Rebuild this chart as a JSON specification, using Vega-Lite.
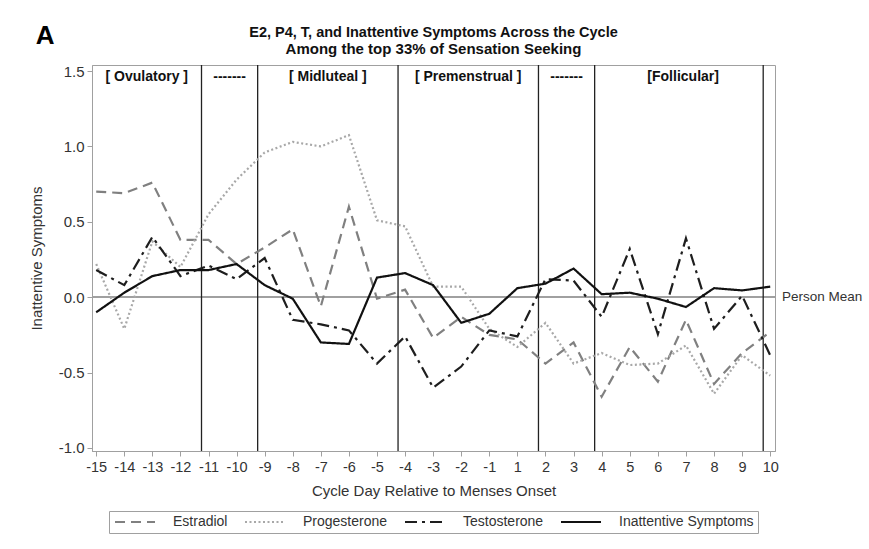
{
  "$schema": "https://vega.github.io/schema/vega-lite/v6.json",
  "autosize": {"type": "none"},
  "padding": {"left": 92, "top": 65, "right": 94, "bottom": 98},
  "width": 683,
  "height": 386,
  "background": "white",
  "title": {
    "text": "E2, P4, T, and Inattentive Symptoms Across the Cycle",
    "subtitle": "Among the top 33% of Sensation Seeking",
    "anchor": "middle",
    "fontSize": 14.5,
    "subtitleFontSize": 15,
    "fontWeight": "bold",
    "subtitleFontWeight": "bold",
    "color": "#111",
    "subtitleColor": "#111",
    "offset": -35,
    "subtitlePadding": 2
  },
  "config": {
    "font": "Liberation Sans, Arial",
    "view": {"stroke": "#a0a0a0", "strokeWidth": 1},
    "axis": {
      "grid": false,
      "domainColor": "#a0a0a0",
      "tickColor": "#a0a0a0",
      "tickSize": 5,
      "labelColor": "#333",
      "labelFontSize": 15,
      "labelOverlap": false,
      "titleColor": "#333",
      "titleFontSize": 15,
      "titleFontWeight": "normal"
    },
    "legend": {
      "orient": "bottom",
      "direction": "horizontal",
      "layout": {"bottom": {"anchor": "middle"}},
      "strokeColor": "#a0a0a0",
      "padding": 4,
      "offset": 12,
      "symbolType": "M-1,0H7",
      "symbolSize": 100,
      "symbolStrokeWidth": 2.2,
      "labelFontSize": 14,
      "labelColor": "#333",
      "columnPadding": 12,
      "labelOffset": 46
    }
  },
  "data": {
    "values": [
      {"day": -15, "Estradiol": 0.70, "Progesterone": 0.22, "Testosterone": 0.18, "Inattentive Symptoms": -0.10},
      {"day": -14, "Estradiol": 0.69, "Progesterone": -0.21, "Testosterone": 0.08, "Inattentive Symptoms": 0.03},
      {"day": -13, "Estradiol": 0.76, "Progesterone": 0.37, "Testosterone": 0.40, "Inattentive Symptoms": 0.14},
      {"day": -12, "Estradiol": 0.38, "Progesterone": 0.20, "Testosterone": 0.14, "Inattentive Symptoms": 0.18},
      {"day": -11, "Estradiol": 0.38, "Progesterone": 0.55, "Testosterone": 0.21, "Inattentive Symptoms": 0.18},
      {"day": -10, "Estradiol": 0.22, "Progesterone": 0.78, "Testosterone": 0.12, "Inattentive Symptoms": 0.22},
      {"day": -9, "Estradiol": 0.33, "Progesterone": 0.96, "Testosterone": 0.26, "Inattentive Symptoms": 0.08},
      {"day": -8, "Estradiol": 0.45, "Progesterone": 1.03, "Testosterone": -0.15, "Inattentive Symptoms": -0.01},
      {"day": -7, "Estradiol": -0.06, "Progesterone": 1.00, "Testosterone": -0.18, "Inattentive Symptoms": -0.30},
      {"day": -6, "Estradiol": 0.60, "Progesterone": 1.075, "Testosterone": -0.22, "Inattentive Symptoms": -0.31},
      {"day": -5, "Estradiol": -0.01, "Progesterone": 0.51, "Testosterone": -0.44, "Inattentive Symptoms": 0.13},
      {"day": -4, "Estradiol": 0.05, "Progesterone": 0.47, "Testosterone": -0.26, "Inattentive Symptoms": 0.16},
      {"day": -3, "Estradiol": -0.27, "Progesterone": 0.07, "Testosterone": -0.60, "Inattentive Symptoms": 0.08},
      {"day": -2, "Estradiol": -0.13, "Progesterone": 0.07, "Testosterone": -0.46, "Inattentive Symptoms": -0.17},
      {"day": -1, "Estradiol": -0.25, "Progesterone": -0.21, "Testosterone": -0.22, "Inattentive Symptoms": -0.11},
      {"day": 1, "Estradiol": -0.28, "Progesterone": -0.33, "Testosterone": -0.26, "Inattentive Symptoms": 0.06},
      {"day": 2, "Estradiol": -0.44, "Progesterone": -0.17, "Testosterone": 0.12, "Inattentive Symptoms": 0.09},
      {"day": 3, "Estradiol": -0.30, "Progesterone": -0.44, "Testosterone": 0.11, "Inattentive Symptoms": 0.19},
      {"day": 4, "Estradiol": -0.66, "Progesterone": -0.37, "Testosterone": -0.13, "Inattentive Symptoms": 0.02},
      {"day": 5, "Estradiol": -0.33, "Progesterone": -0.45, "Testosterone": 0.32, "Inattentive Symptoms": 0.03},
      {"day": 6, "Estradiol": -0.56, "Progesterone": -0.44, "Testosterone": -0.245, "Inattentive Symptoms": -0.01},
      {"day": 7, "Estradiol": -0.15, "Progesterone": -0.32, "Testosterone": 0.39, "Inattentive Symptoms": -0.065},
      {"day": 8, "Estradiol": -0.575, "Progesterone": -0.64, "Testosterone": -0.21, "Inattentive Symptoms": 0.06},
      {"day": 9, "Estradiol": -0.37, "Progesterone": -0.385, "Testosterone": 0.01, "Inattentive Symptoms": 0.045},
      {"day": 10, "Estradiol": -0.23, "Progesterone": -0.52, "Testosterone": -0.385, "Inattentive Symptoms": 0.07}
    ]
  },
  "layer": [
    {
      "mark": {"type": "rule", "color": "#a0a0a0", "strokeWidth": 1},
      "encoding": {"y": {"datum": 0, "type": "quantitative"}}
    },
    {
      "data": {"values": [{"b": -11.25}, {"b": -9.25}, {"b": -4.25}, {"b": 1.75}, {"b": 3.75}, {"b": 9.75}]},
      "mark": {"type": "rule", "color": "#222", "strokeWidth": 1.3},
      "encoding": {"x": {"field": "b", "type": "quantitative"}}
    },
    {
      "data": {"values": [
        {"phase": "[ Ovulatory ]", "mid": -13.2},
        {"phase": "-------", "mid": -10.25},
        {"phase": "[ Midluteal ]", "mid": -6.75},
        {"phase": "[ Premenstrual ]", "mid": -1.75},
        {"phase": "-------", "mid": 2.75},
        {"phase": "[Follicular]", "mid": 6.9}
      ]},
      "mark": {"type": "text", "fontWeight": "bold", "fontSize": 14, "color": "#111", "baseline": "middle", "align": "center"},
      "encoding": {
        "x": {"field": "mid", "type": "quantitative"},
        "y": {"datum": 1.46, "type": "quantitative"},
        "text": {"field": "phase"}
      }
    },
    {
      "transform": [{"fold": ["Estradiol", "Progesterone", "Testosterone", "Inattentive Symptoms"], "as": ["series", "value"]}],
      "mark": {"type": "line", "strokeWidth": 2.2},
      "encoding": {
        "x": {
          "field": "day",
          "type": "quantitative",
          "scale": {"domain": [-15.15, -1, 1, 10.17], "range": [0, 397.3, 425.4, 683], "nice": false, "zero": false},
          "axis": {
            "values": [-15, -14, -13, -12, -11, -10, -9, -8, -7, -6, -5, -4, -3, -2, -1, 1, 2, 3, 4, 5, 6, 7, 8, 9, 10],
            "tickCount": 40,
            "format": "d",
            "labelExpr": "replace(datum.label, '\u2212', '-')",
            "labelOverlap": false,
            "labelFontSize": 14.5,
            "title": "Cycle Day Relative to Menses Onset",
            "labelPadding": 4,
            "titlePadding": 10
          }
        },
        "y": {
          "field": "value",
          "type": "quantitative",
          "scale": {"domain": [-1.02, 1.54], "nice": false, "zero": false},
          "axis": {
            "values": [-1, -0.5, 0, 0.5, 1, 1.5],
            "format": ".1f",
            "labelExpr": "replace(datum.label, '\u2212', '-')",
            "title": "Inattentive Symptoms",
            "labelPadding": 3,
            "titlePadding": 14
          }
        },
        "color": {
          "field": "series",
          "type": "nominal",
          "scale": {
            "domain": ["Estradiol", "Progesterone", "Testosterone", "Inattentive Symptoms"],
            "range": ["#808080", "#a8a8a8", "#1e1e1e", "#111111"]
          },
          "legend": {"title": null}
        },
        "strokeDash": {
          "field": "series",
          "type": "nominal",
          "scale": {
            "domain": ["Estradiol", "Progesterone", "Testosterone", "Inattentive Symptoms"],
            "range": [[10, 6], [2, 2.5], [12, 5, 3, 5], [1, 0]]
          },
          "legend": {"title": null}
        }
      }
    },
    {
      "data": {"values": [{"t": "Person Mean"}]},
      "mark": {"type": "text", "align": "left", "baseline": "middle", "dx": 7, "fontSize": 13.5, "color": "#333"},
      "encoding": {
        "x": {"datum": 10.17, "type": "quantitative"},
        "y": {"datum": 0, "type": "quantitative"},
        "text": {"field": "t"}
      }
    },
    {
      "data": {"values": [{"t": "A"}]},
      "mark": {"type": "text", "align": "center", "baseline": "middle", "fontSize": 26, "fontWeight": "bold", "color": "#000"},
      "encoding": {
        "x": {"datum": -16.82, "type": "quantitative"},
        "y": {"datum": 1.73, "type": "quantitative"},
        "text": {"field": "t"}
      }
    }
  ]
}
